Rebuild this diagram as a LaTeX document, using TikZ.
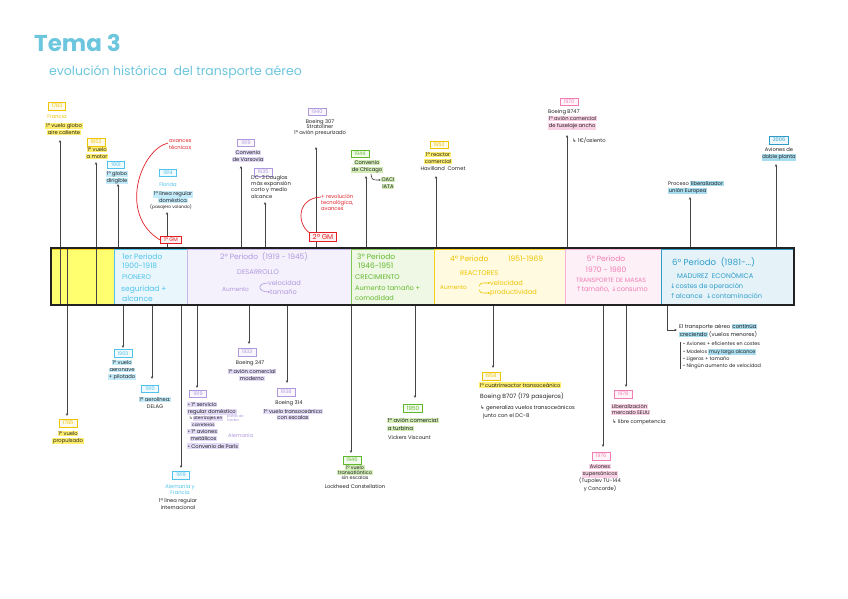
\documentclass[tikz,border=0pt]{standalone}
\usepackage{fontspec}
\setmainfont{Poppins}
\newfontfamily\symf{DejaVu Sans}
\usetikzlibrary{arrows.meta}
\definecolor{ttl}{HTML}{6CC6DE}
\definecolor{yel}{HTML}{EEC400}
\definecolor{yelB}{HTML}{F4D21A}
\definecolor{hy}{HTML}{FFEE6E}
\definecolor{yf}{HTML}{FFFF70}
\definecolor{yf2}{HTML}{FFFAE0}
\definecolor{cya}{HTML}{4FC3EC}
\definecolor{hc}{HTML}{C4EBFA}
\definecolor{cf}{HTML}{E9F7FD}
\definecolor{lav}{HTML}{AE98DE}
\definecolor{hv}{HTML}{E3DAF7}
\definecolor{lf}{HTML}{F5F1FC}
\definecolor{grn}{HTML}{62B82C}
\definecolor{hg}{HTML}{D2ECB6}
\definecolor{gf}{HTML}{EEF8E5}
\definecolor{pnk}{HTML}{F27DB5}
\definecolor{hp}{HTML}{FBD2E5}
\definecolor{pf}{HTML}{FDF0F6}
\definecolor{blu}{HTML}{2E9CC9}
\definecolor{hb}{HTML}{A8DCEF}
\definecolor{bf}{HTML}{E5F3F9}
\definecolor{rd}{HTML}{E21F26}
\definecolor{ink}{HTML}{222222}
\definecolor{ln}{HTML}{444444}
\newcommand\hlt[2]{{\setlength{\fboxsep}{0.7pt}\colorbox{#1}{#2}}}
\newcommand\fsm{\fontsize{5.2}{7}\selectfont}
\newcommand\fxs{\fontsize{4.3}{5.2}\selectfont}
\newcommand\fyr{\fontsize{5}{5.5}\selectfont}
\newcommand\fpa{\fontsize{7.5}{8}\selectfont}
\newcommand\fpb{\fontsize{6.6}{8}\selectfont}
\newcommand\fpc{\fontsize{6.8}{8}\selectfont}
\newcommand\fpd{\fontsize{8.6}{9}\selectfont}
\newcommand\ar[1]{{\symf #1}}
\tikzset{
 tx/.style={inner sep=0pt, font=\fsm, align=center, text=ink},
 yb/.style={draw=#1, fill=#1!8, text=#1, line width=0.7pt, inner xsep=3.6pt, inner ysep=2pt, font=\fyr},
 arr/.style={draw=ln, line width=0.8pt, -{Stealth[length=2.8pt,width=2.4pt]}},
 seg/.style 2 args={draw=#1, fill=#2, line width=1pt},
 redbox/.style={draw=rd, fill=rd!6, text=rd, line width=0.8pt, inner xsep=3.5pt, inner ysep=1.6pt, font=\fsm},
 rline/.style={draw=rd, line width=0.7pt},
 pt/.style={inner sep=0pt, anchor=west, text=#1, font=\fpa},
}
\begin{document}
\begin{tikzpicture}[x=1pt,y=-1pt]
\path[fill=white,use as bounding box] (0,0) rectangle (848,599);
% title
\node[anchor=west,inner sep=0pt,text=ttl,font=\fontsize{23}{24}\selectfont\bfseries] (title) at (34,43) {Tema 3};
\node[anchor=west,inner sep=0pt,text=ttl,font=\fontsize{12.5}{13}\selectfont] (subtitle) at (49,72) {evolución histórica\ \ del transporte aéreo};
% bar segments
\path[seg={yelB}{yf}] (51,249) rectangle (114,304);
\path[seg={cya}{cf}] (114.5,249) rectangle (187,304);
\path[seg={lav!70}{lf}] (187,249) rectangle (351,304);
\path[seg={grn!80}{gf}] (351,249) rectangle (434,304);
\path[seg={yelB}{yf2}] (434,249) rectangle (565,304);
\path[seg={pnk!60}{pf}] (565,249) rectangle (661,304);
\path[seg={blu}{bf}] (661,249) rectangle (793,304);
% period texts
\node[pt=cya] (p1a) at (122,257) {1er Periodo};
\node[pt=cya] (p1b) at (122,266) {1900-1918};
\node[pt=cya,font=\fpc] (p1c) at (122,277) {PIONERO};
\node[pt=cya] (p1d) at (121,290) {seguridad +};
\node[pt=cya] (p1e) at (122,299) {alcance};
\node[pt=lav] (p2a) at (220,257) {2º Periodo\ \ (1919 - 1945)};
\node[pt=lav,font=\fpc] (p2b) at (237,272) {DESARROLLO};
\node[pt=lav,font=\fontsize{5.8}{6}\selectfont] (p2c) at (222,290) {Aumento};
\node[pt=lav,font=\fpb] (p2d) at (268,283) {velocidad};
\node[pt=lav,font=\fpb] (p2e) at (270,292) {tamaño};
\draw[lav,line width=0.6pt,-{Stealth[length=2pt,width=2pt]}] (p2d.west) .. controls (257,283) and (257,292) .. (p2e.west);
\node[pt=grn] (p3a) at (357,257) {3º Periodo};
\node[pt=grn] (p3b) at (358,266) {1946-1951};
\node[pt=grn,font=\fpc] (p3c) at (355,277) {CRECIMIENTO};
\node[pt=grn,font=\fpb] (p3d) at (355,288) {Aumento tamaño +};
\node[pt=grn,font=\fpb] (p3e) at (355,298) {comodidad};
\node[pt=yel] (p4a) at (450,259) {4º Periodo};
\node[pt=yel] (p4b) at (508,259) {1951-1969};
\node[pt=yel,font=\fpc] (p4c) at (460,273) {REACTORES};
\node[pt=yel,font=\fontsize{5.8}{6}\selectfont] (p4d) at (440,288) {Aumento};
\node[pt=yel,font=\fpb] (p4e) at (490,283) {velocidad};
\node[pt=yel,font=\fpb] (p4f) at (490,293) {productividad};
\draw[yel,line width=0.6pt,-{Stealth[length=2pt,width=2pt]}] (479,286) .. controls (480,283) .. (p4e.west);
\draw[yel,line width=0.6pt,-{Stealth[length=2pt,width=2pt]}] (479,290) .. controls (480,293) .. (p4f.west);
\node[inner sep=0pt,text=pnk,font=\fpa] (p5a) at (606,259) {5º Periodo};
\node[inner sep=0pt,text=pnk,font=\fpa] (p5b) at (606,270) {1970 - 1980};
\node[inner sep=0pt,text=pnk,font=\fontsize{6.2}{7}\selectfont] (p5c) at (611,280) {TRANSPORTE DE MASAS};
\node[inner sep=0pt,text=pnk,font=\fpb] (p5d) at (612,290) {\ar{↑}tamaño, \ar{↓}consumo};
\node[pt=blu,font=\fpd] (p6a) at (672,262) {6º Periodo\ \ (1981-...)};
\node[pt=blu,font=\fpc] (p6b) at (677,275) {MADUREZ\ \ ECONÓMICA};
\node[pt=blu,font=\fpb] (p6c) at (670,287) {\ar{↓}costes de operación};
\node[pt=blu,font=\fpb] (p6d) at (670,296) {\ar{↑}alcance\ \ \ar{↓}contaminación};

% ===== events above =====
% 1783
\node[yb=yel] (y1783) at (57,106) {1783};
\node[tx,text=yel] (f1783) at (57,117) {Francia};
\node[tx,anchor=north] (t1783) at (64,122.5) {\hlt{hy}{1º vuelo globo}\\\hlt{hy}{aire caliente}};
\coordinate (a1783b) at (60,305); \coordinate (a1783t) at (60,140);
\draw[arr] (a1783b) -- (a1783t);
% 1852
\node[yb=yel] (y1852) at (96,142) {1852};
\node[tx,anchor=north] (t1852) at (97,146.5) {\hlt{hy}{1º vuelo}\\\hlt{hy}{a motor}};
\coordinate (a1852b) at (96,305); \coordinate (a1852t) at (96,162);
\draw[arr] (a1852b) -- (a1852t);
% 1901
\node[yb=cya] (y1901) at (116,165) {1901};
\node[tx,anchor=north] (t1901) at (117,170.5) {\hlt{hc}{1º globo}\\\hlt{hc}{dirigible}};
\coordinate (a1901b) at (118,248); \coordinate (a1901t) at (118,184);
\draw[arr] (a1901b) -- (a1901t);
% 1914
\node[yb=cya] (y1914) at (168,173) {1914};
\node[tx,text=cya] (f1914) at (168,185) {Florida};
\node[tx,anchor=north] (t1914) at (173,190.5) {\hlt{hc}{1ª línea regular}\\\hlt{hc}{doméstica}};
\node[tx,font=\fxs] (n1914) at (171,207) {(pasajero volando)};
\coordinate (a1914b) at (167,248); \coordinate (a1914t) at (167,212);
\draw[arr] (a1914b) -- (a1914t);
% 1a GM
\node[redbox] (gm1) at (171,240) {1ª GM};
\node[tx,text=rd,anchor=north west,align=left] (avt) at (169,139.5) {avances\\técnicos};
\draw[rline] (168,143) .. controls (140,150) and (118,215) .. (gm1.west);
% 1919 top
\node[yb=lav] (y1919a) at (246,143) {1919};
\node[tx,anchor=north] (t1919a) at (248,149.5) {\hlt{hv}{Convenio}\\\hlt{hv}{de Varsovia}};
\coordinate (a1919ab) at (241,248); \coordinate (a1919at) at (241,166);
\draw[arr] (a1919ab) -- (a1919at);
% 1935
\node[yb=lav] (y1935) at (263,172) {1935};
\node[tx,anchor=north west,align=left,font=\fontsize{5.2}{6.4}\selectfont] (t1935) at (251,175) {DC-3 Douglas\\más expansión\\corto y medio\\alcance};
\coordinate (a1935b) at (265,248); \coordinate (a1935t) at (265,202);
\draw[arr] (a1935b) -- (a1935t);
% 1940
\node[yb=lav] (y1940) at (317,112) {1940};
\node[tx,anchor=north,font=\fontsize{5.2}{5.6}\selectfont] (t1940) at (320,119) {Boeing 307\\Stratoliner\\1º avión presurizado};
\coordinate (a1940b) at (316,248); \coordinate (a1940t) at (316,147);
\draw[arr] (a1940b) -- (a1940t);
% 2a GM
\node[redbox,font=\fontsize{7}{8}\selectfont] (gm2) at (323,237) {2ª GM};
\node[tx,text=rd,anchor=north west,align=left,font=\fontsize{5.2}{6}\selectfont] (rev) at (321,194) {+ revolución\\tecnológica,\\avances};
\draw[rline] (rev.north west) ++(0,3) .. controls (298,198) and (296,222) .. (gm2.north west);
% 1944
\node[yb=grn] (y1944) at (360,154) {1944};
\node[tx,anchor=north] (t1944) at (367,159.5) {\hlt{hg}{Convenio}\\\hlt{hg}{de Chicago}};
\node[tx,anchor=north] (o1944) at (388,176.5) {\hlt{hg}{OACI}\\\hlt{hg}{IATA}};
\draw[ln,line width=0.6pt,-{Stealth[length=2pt,width=2pt]}] (371,174) .. controls (372,180) .. (o1944.west |- 0,180);
\coordinate (a1944b) at (366,248); \coordinate (a1944t) at (366,176);
\draw[arr] (a1944b) -- (a1944t);
% 1952
\node[yb=yel] (y1952) at (439,145) {1952};
\node[tx,anchor=north] (t1952) at (438,151.5) {\hlt{hy}{1º reactor}\\\hlt{hy}{comercial}};
\node[tx] (h1952) at (443,169) {Havilland\ \ Comet};
\coordinate (a1952b) at (436,248); \coordinate (a1952t) at (436,176);
\draw[arr] (a1952b) -- (a1952t);
% 1970
\node[yb=pnk] (y1970) at (569,102) {1970};
\node[tx,anchor=north west,align=left] (t1970) at (548,109.5) {Boeing B747\\\hlt{hp}{1º avión comercial}\\\hlt{hp}{de fuselaje ancho}};
\node[tx,anchor=west] (e1970) at (572,140) {\ar{↳} 1€/asiento};
\coordinate (a1970b) at (567,248); \coordinate (a1970t) at (567,135);
\draw[arr] (a1970b) -- (a1970t);
% Proceso liberalizador
\node[tx,anchor=north west,align=left] (tlib) at (668,180.5) {Proceso \hlt{hb}{liberalizador}\\\hlt{hb}{unión Europea}};
\coordinate (alibb) at (690,248); \coordinate (alibt) at (690,197);
\draw[arr] (alibb) -- (alibt);
% 2006
\node[yb=blu] (y2006) at (779,140) {2006};
\node[tx,anchor=north] (t2006) at (779,147.5) {Aviones de\\\hlt{hb}{doble planta}};
\coordinate (a2006b) at (776,248); \coordinate (a2006t) at (776,164);
\draw[arr] (a2006b) -- (a2006t);

% ===== events below =====
% 1785
\coordinate (a1785b) at (67,248); \coordinate (a1785t) at (67,416);
\draw[arr] (a1785b) -- (a1785t);
\node[yb=yel] (y1785) at (68,423) {1785};
\node[tx,anchor=north] (t1785) at (68,430.5) {\hlt{hy}{1º vuelo}\\\hlt{hy}{propulsado}};
% 1903
\coordinate (a1903b) at (123,305); \coordinate (a1903t) at (123,348);
\draw[arr] (a1903b) -- (a1903t);
\node[yb=cya] (y1903) at (123,353.5) {1903};
\node[tx,anchor=north] (t1903) at (122,359.5) {\hlt{hc}{1º vuelo}\\\hlt{hc}{aeronave}\\\hlt{hc}{+ pilotado}};
% 1910
\coordinate (a1910b) at (152,305); \coordinate (a1910t) at (152,379);
\draw[arr] (a1910b) -- (a1910t);
\node[yb=cya] (y1910) at (150,389) {1910};
\node[tx,anchor=north] (t1910) at (155,396.5) {\hlt{hc}{1ª aerolínea:}\\DELAG};
% 1919 cyan
\coordinate (a1919cb) at (181,305); \coordinate (a1919ct) at (181,468);
\draw[arr] (a1919cb) -- (a1919ct);
\node[yb=cya] (y1919c) at (181,475) {1919};
\node[tx,anchor=north,text=cya,font=\fontsize{5.2}{6.2}\selectfont] (f1919c) at (180,484) {Alemania y\\Francia};
\node[tx,anchor=north,font=\fontsize{5.2}{7}\selectfont] (t1919c) at (178,498) {1ª línea regular\\internacional};
% 1919 lavender
\coordinate (a1919lb) at (197,305); \coordinate (a1919lt) at (197,388);
\draw[arr] (a1919lb) -- (a1919lt);
\node[yb=lav] (y1919l) at (198,394) {1919};
\node[tx,anchor=north west,align=left] (t1919l) at (187,401.5) {\hlt{hv}{• 1º servicio}\\\hlt{hv}{regular doméstico}};
\node[tx,anchor=north west,align=left,font=\fxs] (s1919l) at (189,415.5) {\ar{↳}\hlt{hv}{aterrizajes en}\\\ \ \hlt{hv}{carreteras}};
\node[tx,anchor=north west,align=left,font=\fontsize{3.6}{4.4}\selectfont,text=lav] (n1919l) at (227,414.5) {pistas de\\hierba};
\node[tx,anchor=north west,align=left] (m1919l) at (187,428.5) {\hlt{hv}{• 1º aviones}\\\ \ \hlt{hv}{metálicos}};
\node[tx,anchor=west,text=lav] (g1919l) at (228,436) {Alemania};
\node[tx,anchor=west] (c1919l) at (187,446) {\hlt{hv}{• Convenio de París}};
% 1933
\coordinate (a1933b) at (249,305); \coordinate (a1933t) at (249,344);
\draw[arr] (a1933b) -- (a1933t);
\node[yb=lav] (y1933) at (247,352) {1933};
\node[tx] (b1933) at (250,363) {Boeing 247};
\node[tx,anchor=north] (t1933) at (252,368.5) {\hlt{hv}{1º avión comercial}\\\hlt{hv}{moderno}};
% 1938
\coordinate (a1938b) at (287,305); \coordinate (a1938t) at (287,383);
\draw[arr] (a1938b) -- (a1938t);
\node[yb=lav] (y1938) at (286,392) {1938};
\node[tx] (b1938) at (289,403) {Boeing 314};
\node[tx,anchor=north,font=\fontsize{5.2}{6.2}\selectfont] (t1938) at (293,408.5) {\hlt{hv}{1º vuelo transoceánico}\\\hlt{hv}{con escalas}};
% 1946
\coordinate (a1946b) at (351,305); \coordinate (a1946t) at (351,453);
\draw[arr] (a1946b) -- (a1946t);
\node[yb=grn] (y1946) at (352,460) {1946};
\node[tx,anchor=north,font=\fontsize{4.8}{5.2}\selectfont] (t1946) at (355,465) {\hlt{hg}{1º vuelo}\\\hlt{hg}{transatlántico}\\sin escalas};
\node[tx] (l1946) at (355,487) {Lockheed Constellation};
% 1950
\coordinate (a1950b) at (415,305); \coordinate (a1950t) at (415,398);
\draw[arr] (a1950b) -- (a1950t);
\node[yb=grn,font=\fontsize{5.6}{6}\selectfont] (y1950) at (413,408) {1950};
\node[tx,anchor=north west,align=left,font=\fontsize{5.5}{8}\selectfont] (t1950) at (387,417.5) {\hlt{hg}{1º avión comercial}\\\hlt{hg}{a turbina}};
\node[tx,anchor=west] (v1950) at (388,438) {Vickers Viscount};
% 1958
\coordinate (a1958b) at (493,305); \coordinate (a1958t) at (493,368);
\draw[arr] (a1958b) -- (a1958t);
\node[yb=yel] (y1958) at (491,376) {1958};
\node[tx,anchor=west] (t1958) at (479,385) {\hlt{hy}{1º cuatrirreactor transoceánico}};
\node[tx,anchor=west,font=\fontsize{6}{7}\selectfont] (b1958) at (480,397) {Boeing B707 (179 pasajeros)};
\node[tx,anchor=north west,align=left,font=\fontsize{5.3}{8.5}\selectfont] (g1958) at (480,405) {\ar{↳} generaliza vuelos transoceánicos\\\ \ junto con el DC-8};
% 1976
\coordinate (a1976b) at (603,305); \coordinate (a1976t) at (603,447);
\draw[arr] (a1976b) -- (a1976t);
\node[yb=pnk] (y1976) at (601,456) {1976};
\node[tx,anchor=north,font=\fontsize{5.2}{7.3}\selectfont] (t1976) at (600,463.5) {\hlt{hp}{Aviones}\\\hlt{hp}{supersónicos}\\(Tupolev TU-144\\y Concorde)};
% 1978
\coordinate (a1978b) at (626,305); \coordinate (a1978t) at (626,387);
\draw[arr] (a1978b) -- (a1978t);
\node[yb=pnk] (y1978) at (623,394) {1978};
\node[tx,anchor=north west,align=left,font=\fontsize{5.2}{6.2}\selectfont] (t1978) at (611,403.5) {\hlt{hp}{Liberalización}\\\hlt{hp}{mercado EEUU}};
\node[tx,anchor=west] (c1978) at (612,422) {\ar{↳} libre competencia};
% 6th period
\coordinate (a6b) at (667,305); \coordinate (a6t) at (677,330);
\draw[arr] (a6b) |- (a6t);
\node[tx,anchor=north west,align=left,font=\fontsize{5.4}{8}\selectfont] (t6) at (679,323.5) {El transporte aéreo \hlt{hb}{continúa}\\\hlt{hb}{creciendo} (vuelos menores)};
\coordinate (v6a) at (680,342); \coordinate (v6b) at (680,369);
\draw[ln,line width=0.6pt] (v6a) -- (v6b);
\node[tx,anchor=north west,align=left,font=\fontsize{4.9}{7.3}\selectfont] (l6) at (683,342) {• Aviones + eficientes en costes\\• Modelos \hlt{hb}{muy largo alcance}\\• Ligeros + tamaño\\• Ningún aumento de velocidad};
% outer frame
\draw[line width=2pt, ink] (51,248) rectangle (794,305);
\end{tikzpicture}
\end{document}
